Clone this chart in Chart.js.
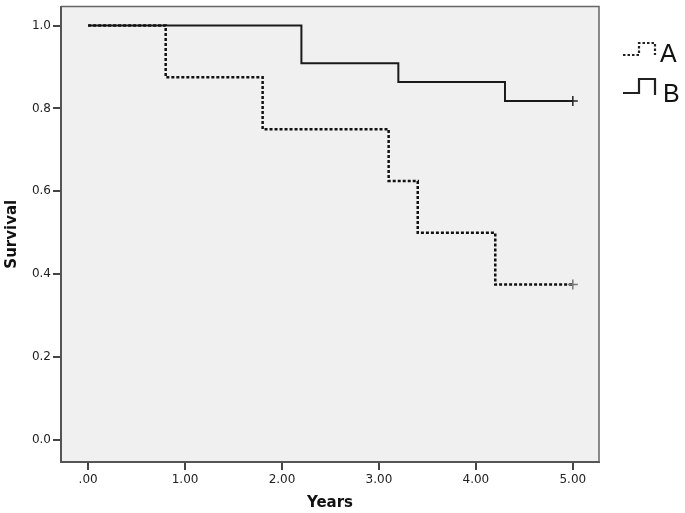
<!DOCTYPE html>
<html>
<head>
<meta charset="utf-8">
<script src="https://cdn.jsdelivr.net/npm/chart.js@4"></script>
<style>
html,body{margin:0;padding:0;background:#fff;}
#wrap{width:685px;height:513px;position:relative;}
</style>
</head>
<body>
<div id="wrap"><canvas id="c" width="685" height="513"></canvas></div>
<script>
// Data
const seriesNames = ["A", "B"];
const timesA = [0, 0.8, 1.8, 3.1, 3.4, 4.2, 5.0];
const survA  = [1.0, 0.875, 0.75, 0.625, 0.5, 0.375, 0.375];
const timesB = [0, 2.2, 3.2, 4.3, 5.0];
const survB  = [1.0, 0.909, 0.864, 0.818, 0.818];
const xTicks = [0, 1, 2, 3, 4, 5];
const yTicks = [0, 0.2, 0.4, 0.6, 0.8, 1.0];

function pts(t, s){ return t.map((v,i)=>({x:v, y:s[i]})); }
function censorRadius(n){ return (ctx)=> ctx.dataIndex === n-1 ? 5 : 0; }

const bgPlugin = {
  id:'bg',
  beforeDraw(chart){
    const {ctx, chartArea:a} = chart;
    ctx.save();
    ctx.fillStyle = '#f0f0f0';
    ctx.fillRect(a.left, a.top, a.right-a.left, a.bottom-a.top);
    ctx.restore();
  },
  afterDraw(chart){
    const {ctx, chartArea:a} = chart;
    ctx.save();
    ctx.strokeStyle = '#666';
    ctx.lineWidth = 1.5;
    ctx.beginPath();
    ctx.moveTo(a.left, a.top); ctx.lineTo(a.right, a.top); ctx.lineTo(a.right, a.bottom);
    ctx.stroke();
    // legend
    const items = [
      {name:seriesNames[0], dash:[2.5,2], top:43, low:55, bot:55, tx:660, ty:62},
      {name:seriesNames[1], dash:[], top:79, low:93, bot:95, tx:663, ty:102}
    ];
    items.forEach(it=>{
      ctx.strokeStyle = '#222';
      ctx.lineWidth = 2.2;
      ctx.setLineDash(it.dash);
      ctx.beginPath();
      ctx.moveTo(623, it.low); ctx.lineTo(639, it.low); ctx.lineTo(639, it.top);
      ctx.lineTo(655, it.top); ctx.lineTo(655, it.bot);
      ctx.stroke();
      ctx.setLineDash([]);
      ctx.fillStyle = '#111';
      ctx.font = '25px "Liberation Sans", Arial, sans-serif';
      ctx.textBaseline = 'alphabetic';
      ctx.fillText(it.name, it.tx, it.ty);
    });
    ctx.restore();
  }
};

const tickFont = {size:12, family:'"DejaVu Sans", Verdana, sans-serif'};
const titleFont = {size:15, weight:'bold', family:'"DejaVu Sans", Verdana, sans-serif'};

new Chart(document.getElementById('c'), {
  type:'line',
  data:{
    datasets:[
      {label:seriesNames[0], data:pts(timesA, survA), stepped:'before', borderColor:'#111', borderWidth:2.5,
       borderDash:[3,2], fill:false, pointStyle:'cross', pointRadius:censorRadius(timesA.length),
       pointBorderColor:'#777', pointBorderWidth:1.5, pointHoverRadius:0},
      {label:seriesNames[1], data:pts(timesB, survB), stepped:'before', borderColor:'#1a1a1a', borderWidth:2,
       fill:false, pointStyle:'cross', pointRadius:censorRadius(timesB.length),
       pointBorderColor:'#222', pointBorderWidth:1.5, pointHoverRadius:0}
    ]
  },
  options:{
    responsive:false, animation:false,
    layout:{padding:{top:0, right:86, left:0, bottom:0}},
    plugins:{legend:{display:false}, tooltip:{enabled:false}},
    scales:{
      x:{type:'linear', min:-0.28, max:5.27,
        afterBuildTicks(s){ s.ticks = xTicks.map(v=>({value:v})); },
        afterFit(s){ s.height = 51; s.paddingLeft = 0; s.paddingRight = 0; },
        ticks:{color:'#222', font:tickFont, padding:3, maxRotation:0,
          callback(v){ const t = Number(v).toFixed(2); return t.startsWith('0') ? t.slice(1) : t; }},
        grid:{drawOnChartArea:false, drawTicks:true, tickLength:8, color:'#444', lineWidth:2},
        border:{display:true, color:'#555', width:2},
        title:{display:true, text:'Years', color:'#111', font:titleFont, padding:{top:0,bottom:1}}
      },
      y:{type:'linear', min:-0.053, max:1.046,
        afterBuildTicks(s){ s.ticks = yTicks.map(v=>({value:v})); },
        afterFit(s){ s.width = 61; s.paddingTop = 0; s.paddingBottom = 0; },
        ticks:{color:'#222', font:tickFont, padding:2,
          callback(v){ return Number(v).toFixed(1); }},
        grid:{drawOnChartArea:false, drawTicks:true, tickLength:8, color:'#444', lineWidth:2},
        border:{display:true, color:'#555', width:2},
        title:{display:true, text:'Survival', color:'#111', font:titleFont, padding:{top:3,bottom:0}}
      }
    }
  },
  plugins:[bgPlugin]
});
</script>
</body>
</html>
